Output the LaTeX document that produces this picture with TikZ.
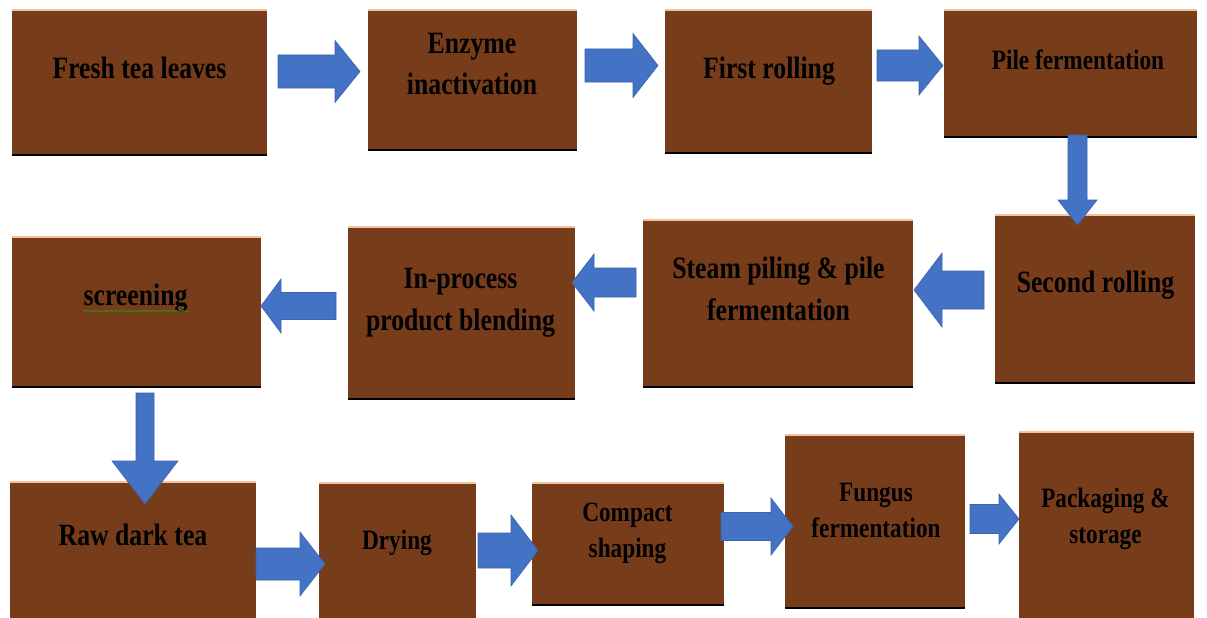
\documentclass[tikz,border=0pt]{standalone}
\usepackage{fontspec}
\newfontfamily\stepfont{Liberation Serif}[FakeStretch=0.83]
\usetikzlibrary{decorations.pathmorphing}

\definecolor{stepbrown}{HTML}{773D1B}
\definecolor{steppeach}{HTML}{F6C3A0}
\definecolor{arrowblue}{HTML}{4472C4}
\definecolor{arrowedge}{HTML}{3A63AE}
\definecolor{spellgreen}{HTML}{2E8B22}

\tikzset{
  steptop/.style={draw=steppeach, line width=1.5pt},
  stepbottom/.style={draw=black, line width=2pt},
  stepbox/.style={fill=stepbrown, inner sep=0pt, anchor=north west,
    append after command={(\tikzlastnode.north west) edge[steptop] (\tikzlastnode.north east)
      (\tikzlastnode.south west) edge[stepbottom] (\tikzlastnode.south east)}},
  steplabel/.style={font=\stepfont\bfseries\fontsize{31}{41.5}\selectfont,
    align=center, anchor=base, inner sep=0pt},
  steplabelsmall/.style={steplabel, font=\stepfont\bfseries\fontsize{28}{36}\selectfont},
  blockarrow/.style={fill=arrowblue, draw=arrowedge, line width=0.6pt, line join=miter}
}

\begin{document}
\begin{tikzpicture}[x=1pt, y=-1pt]
\useasboundingbox (0,0) rectangle (1207,618);

% first row
\node[stepbox, minimum width=255, minimum height=145] (fresh) at (12,10) {};
\node[stepbox, minimum width=209, minimum height=140] (enzyme) at (368,10) {};
\node[stepbox, minimum width=207, minimum height=143] (firstroll) at (665,10) {};
\node[stepbox, minimum width=253, minimum height=127] (pile) at (944,10) {};
\node[steplabel] (freshtxt) at (139.5,78) {Fresh tea leaves};
\node[steplabel] (enzymetxt) at (472,95) {Enzyme\\inactivation};
\node[steplabel] (firstrolltxt) at (769,78) {First rolling};
\node[steplabelsmall] (piletxt) at (1078,70) {Pile fermentation};

% second row
\node[stepbox, minimum width=200, minimum height=168] (secondroll) at (995,215) {};
\node[stepbox, minimum width=270, minimum height=167] (steam) at (643,220) {};
\node[stepbox, minimum width=227, minimum height=172] (blend) at (348,227) {};
\node[stepbox, minimum width=249, minimum height=150] (screen) at (12,237) {};
\node[steplabel] (secondrolltxt) at (1095.5,292) {Second rolling};
\node[steplabel] (steamtxt) at (778.5,320) {Steam piling \& pile\\fermentation};
\node[steplabel] (blendtxt) at (460.5,330) {In-process\\product blending};
\node[steplabel] (screentxt) at (135.5,305) {screening};
\draw[spellgreen, line width=0.6pt, decorate,
  decoration={zigzag, amplitude=1pt, segment length=3pt}] (83,311) -- (189,311);

% third row
\node[stepbox, minimum width=246, minimum height=140] (raw) at (10,482) {};
\node[stepbox, minimum width=157, minimum height=137] (drying) at (319,483) {};
\node[stepbox, minimum width=192, minimum height=122] (compact) at (532,483) {};
\node[stepbox, minimum width=180, minimum height=173] (fungus) at (785,435) {};
\node[stepbox, minimum width=175, minimum height=190] (pack) at (1019,432) {};
\node[steplabel] (rawtxt) at (133,545) {Raw dark tea};
\node[steplabelsmall] (dryingtxt) at (397,549) {Drying};
\node[steplabelsmall] (compacttxt) at (627.5,557) {Compact\\shaping};
\node[steplabelsmall] (fungustxt) at (876,537) {Fungus\\fermentation};
\node[steplabelsmall] (packtxt) at (1105.5,543) {Packaging \&\\storage};

% horizontal block arrows: tail/head base/tip/centre/shaft half/head half
\foreach \tail/\base/\tip/\yc/\sh/\hh in {
    278/335/360/71.5/16.5/31, 585/633/658/65.5/16.5/32, 877/919/943/65.5/15.5/29.5,
    984/942/914/290/19/37, 636/594/572/282.5/14.5/28.5, 336/281/261/306/13.5/27,
    256/300/325/564/16/32, 478/511/538/550.5/17.5/35.5, 721/771/793/526.5/14/28.5,
    970/999/1019/519/14.5/25}
  \draw[blockarrow] (\tail,\yc-\sh) -- (\base,\yc-\sh) -- (\base,\yc-\hh) -- (\tip,\yc)
    -- (\base,\yc+\hh) -- (\base,\yc+\sh) -- (\tail,\yc+\sh) -- cycle;

% vertical block arrows
\foreach \xc/\tail/\base/\tip/\sh/\hh in {1077.5/135/200/225/9.5/19.5, 145/393/461/504/9/33}
  \draw[blockarrow] (\xc-\sh,\tail) -- (\xc-\sh,\base) -- (\xc-\hh,\base) -- (\xc,\tip)
    -- (\xc+\hh,\base) -- (\xc+\sh,\base) -- (\xc+\sh,\tail) -- cycle;
\end{tikzpicture}
\end{document}
